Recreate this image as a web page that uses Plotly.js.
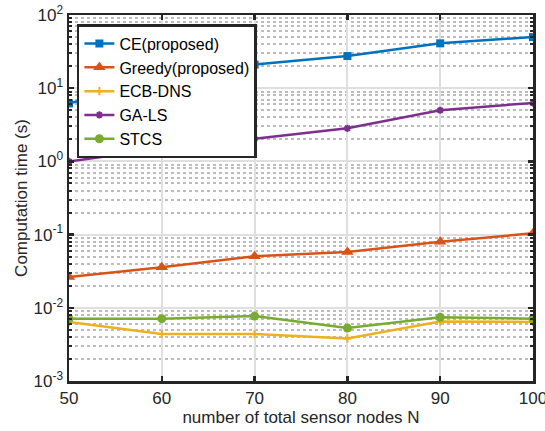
<!DOCTYPE html>
<html><head><meta charset="utf-8">
<script src="https://cdn.plot.ly/plotly-3.0.1.min.js"></script>
<style>html,body{margin:0;padding:0;background:#fff}#chart{width:545px;height:431px}</style>
</head><body><div id="chart"></div>
<script>
const nodes = [50, 60, 70, 80, 90, 100];
const ce = [6.2, 12, 21, 27.5, 41, 50];
const greedy = [0.0264, 0.0358, 0.0506, 0.058, 0.080, 0.104];
const ecbdns = [0.0064, 0.0044, 0.0044, 0.0038, 0.0065, 0.0064];
const gals = [1.0, 1.5, 2.04, 2.83, 5.0, 6.3];
const stcs = [0.0071, 0.0071, 0.0077, 0.0053, 0.0074, 0.0071];
const seriesNames = ['CE(proposed)', 'Greedy(proposed)', 'ECB-DNS', 'GA-LS', 'STCS'];
const yTickVals = [0.001, 0.01, 0.1, 1, 10, 100];
const yTickText = ['10<sup>-3</sup>', '10<sup>-2</sup>', '10<sup>-1</sup>', '10<sup>0</sup>', '10<sup>1</sup>', '10<sup>2</sup>'];
const xTickVals = [50, 60, 70, 80, 90, 100];

function tr(y, name, color, symbol, size) {
  return {x: nodes, y: y, name: name, type: 'scatter', mode: 'lines+markers',
    line: {color: color, width: 2.5}, marker: {color: color, symbol: symbol, size: size}};
}
const data = [
  tr(ce, seriesNames[0], '#0072BD', 'square', 8),
  tr(greedy, seriesNames[1], '#D95319', 'triangle-up', 11),
  tr(ecbdns, seriesNames[2], '#EDB120', 'cross-thin', 6),
  tr(gals, seriesNames[3], '#7E2F8E', 'asterisk', 6),
  tr(stcs, seriesNames[4], '#77AC30', 'circle', 9)
];
data[2].marker.line = {color: '#EDB120', width: 2};
data[3].marker.line = {color: '#7E2F8E', width: 2};
const layout = {
  width: 545, height: 431,
  margin: {l: 69, r: 12, t: 15, b: 50},
  paper_bgcolor: '#fff', plot_bgcolor: '#fff',
  font: {family: 'Liberation Sans, Arial, sans-serif', size: 17, color: '#262626'},
  showlegend: true,
  legend: {x: 0.017, y: 0.975, xanchor: 'left', yanchor: 'top', bgcolor: '#fff',
    bordercolor: '#262626', borderwidth: 2.5, font: {size: 16, color: '#000'},
    tracegroupgap: 0, itemwidth: 30},
  xaxis: {range: [50, 100], tickvals: xTickVals, ticks: 'inside', ticklen: 5, tickwidth: 2.5,
    tickcolor: '#262626', showline: true, linecolor: '#262626', linewidth: 2.5, mirror: 'ticks',
    showgrid: true, gridcolor: '#dfdfdf', gridwidth: 2, zeroline: false,
    tickfont: {size: 17}, ticklabeloverflow: 'allow',
    title: {text: 'number of total sensor nodes N', font: {size: 17}, standoff: 2}},
  yaxis: {type: 'log', range: [-3, 2], tickvals: yTickVals, ticktext: yTickText,
    ticks: 'inside', ticklen: 5, tickwidth: 2.5, tickcolor: '#262626',
    showline: true, linecolor: '#262626', linewidth: 2.5, mirror: 'ticks',
    showgrid: true, gridcolor: '#dfdfdf', gridwidth: 2, zeroline: false,
    tickfont: {size: 17},
    minor: {dtick: 'D1', ticks: 'inside', ticklen: 3, tickwidth: 2, tickcolor: '#262626', showgrid: true,
      gridcolor: '#bcbcbc', griddash: 'dot', gridwidth: 2},
    title: {text: 'Computation time (s)', font: {size: 17}, standoff: 2}}
};
Plotly.newPlot('chart', data, layout, {displayModeBar: false, staticPlot: true});
</script></body></html>
